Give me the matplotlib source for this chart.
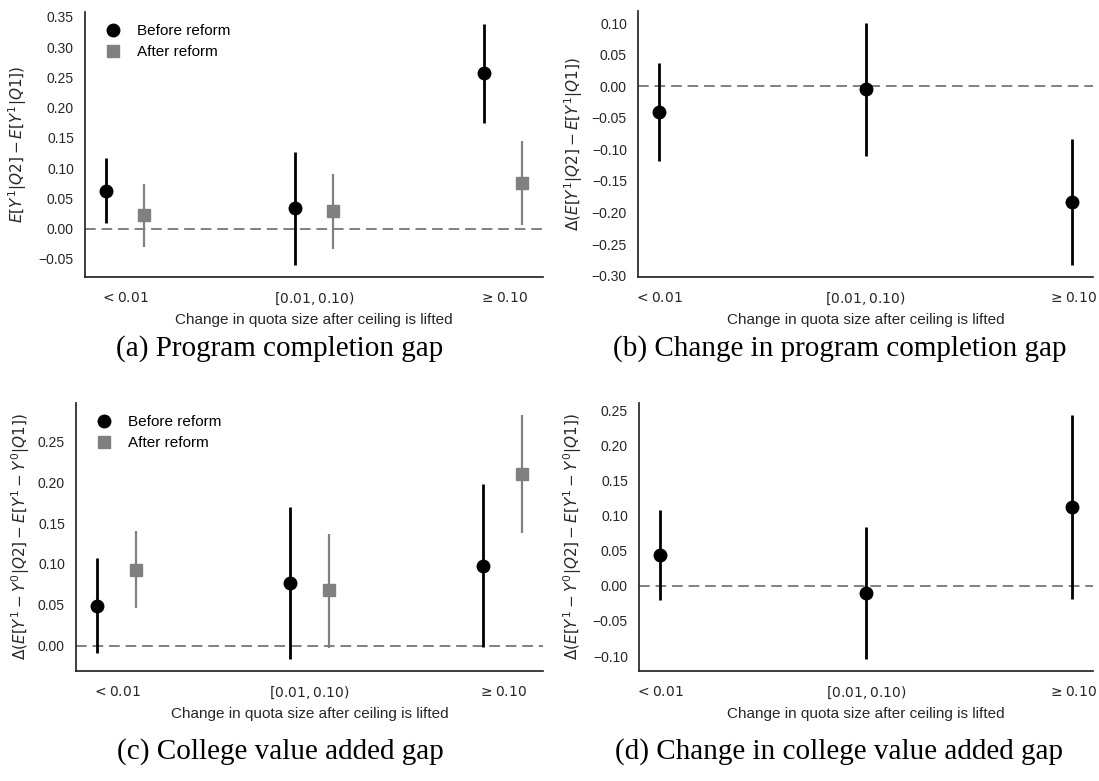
import matplotlib
matplotlib.use("Agg")
import matplotlib.pyplot as plt
import numpy as np
from matplotlib.ticker import MultipleLocator, FuncFormatter

plt.rcParams['font.family'] = ['Liberation Sans', 'DejaVu Sans']
plt.rcParams['mathtext.fontset'] = 'dejavusans'
plt.rcParams['axes.unicode_minus'] = True

categories = [r"$<0.01$", r"$[0.01, 0.10)$", r"$\geq 0.10$"]

# Panel (a): program completion gap
a_before = [0.063, 0.034, 0.257]
a_before_lo = [0.009, -0.060, 0.175]
a_before_hi = [0.116, 0.126, 0.338]
a_after = [0.022, 0.029, 0.075]
a_after_lo = [-0.031, -0.033, 0.006]
a_after_hi = [0.074, 0.091, 0.144]

# Panel (b): change in program completion gap
b_change = [-0.041, -0.005, -0.183]
b_change_lo = [-0.118, -0.110, -0.283]
b_change_hi = [0.036, 0.100, -0.083]

# Panel (c): college value added gap
c_before = [0.049, 0.077, 0.098]
c_before_lo = [-0.009, -0.016, -0.002]
c_before_hi = [0.107, 0.170, 0.198]
c_after = [0.093, 0.068, 0.210]
c_after_lo = [0.046, -0.003, 0.138]
c_after_hi = [0.140, 0.137, 0.282]

# Panel (d): change in college value added gap
d_change = [0.044, -0.010, 0.112]
d_change_lo = [-0.020, -0.104, -0.019]
d_change_hi = [0.108, 0.084, 0.243]

series_labels = ["Before reform", "After reform"]
captions = ["(a) Program completion gap", "(b) Change in program completion gap",
            "(c) College value added gap", "(d) Change in college value added gap"]
ylabels = [r"$E[Y^1|Q2] - E[Y^1|Q1])$",
           r"$\mathit{\Delta}(E[Y^1|Q2] - E[Y^1|Q1])$",
           r"$\mathit{\Delta}(E[Y^1 - Y^0|Q2] - E[Y^1 - Y^0|Q1])$",
           r"$\mathit{\Delta}(E[Y^1 - Y^0|Q2] - E[Y^1 - Y^0|Q1])$"]
xlabel = "Change in quota size after ceiling is lifted"

W, H = 1099, 781
fig = plt.figure(figsize=(W / 100, H / 100), dpi=100)

def add_ax(left, right, top, bottom):
    return fig.add_axes([left / W, 1 - bottom / H, (right - left) / W, (bottom - top) / H])

ax_a = add_ax(85, 543, 12, 277)
ax_b = add_ax(638, 1093, 11, 277)
ax_c = add_ax(76, 543, 403, 671)
ax_d = add_ax(639, 1093, 403, 671)

edge = '#262626'
gray = '#808080'
x = np.arange(len(categories))

def err(v, lo, hi):
    v = np.array(v); lo = np.array(lo); hi = np.array(hi)
    return [v - lo, hi - v]

fmt = FuncFormatter(lambda v, p: ('%.2f' % v).replace('-', '\u2212') if abs(v) > 1e-9 else '0.00')

def style(ax, ylabel, ylab_x):
    ax.axhline(0, color=gray, ls=(0, (5.5, 3)), lw=1.4, zorder=0)
    for s in ['top', 'right']:
        ax.spines[s].set_visible(False)
    for s in ['left', 'bottom']:
        ax.spines[s].set_color(edge)
        ax.spines[s].set_linewidth(1.25)
    ax.set_xticks(x)
    ax.set_xticklabels(categories)
    ax.tick_params(axis='both', length=0, labelsize=10, colors=edge)
    ax.tick_params(axis='x', pad=10)
    ax.tick_params(axis='y', pad=8)
    ax.yaxis.set_major_locator(MultipleLocator(0.05))
    ax.yaxis.set_major_formatter(fmt)
    ax.set_xlabel(xlabel, fontsize=11, color=edge, labelpad=4)
    ax.set_ylabel(ylabel, fontsize=11, color=edge)
    ax.yaxis.set_label_coords(ylab_x, 0.5)

def two_series(ax, bv, blo, bhi, av, alo, ahi):
    ax.errorbar(x - 0.1, bv, yerr=err(bv, blo, bhi), fmt='o', color='black',
                ms=9, elinewidth=2, capsize=0, label=series_labels[0])
    ax.errorbar(x + 0.1, av, yerr=err(av, alo, ahi), fmt='s', color=gray,
                ms=8, elinewidth=1.6, capsize=0, label=series_labels[1])
    h, l = ax.get_legend_handles_labels()
    h = [hh[0] for hh in h]
    ax.legend(h, l, loc='upper left', frameon=False, fontsize=11,
              handletextpad=0.6, labelspacing=0.45, borderaxespad=0.4)

def one_series(ax, v, lo, hi):
    ax.errorbar(x, v, yerr=err(v, lo, hi), fmt='o', color='black',
                ms=9, elinewidth=2, capsize=0)

two_series(ax_a, a_before, a_before_lo, a_before_hi, a_after, a_after_lo, a_after_hi)
style(ax_a, ylabels[0], (29 - 85) / 458)
one_series(ax_b, b_change, b_change_lo, b_change_hi)
style(ax_b, ylabels[1], (585 - 638) / 455)
two_series(ax_c, c_before, c_before_lo, c_before_hi, c_after, c_after_lo, c_after_hi)
style(ax_c, ylabels[2], (32 - 76) / 467)
one_series(ax_d, d_change, d_change_lo, d_change_hi)
style(ax_d, ylabels[3], (584 - 639) / 454)

cap_pos = [(280, 349), (840, 349), (280, 752), (839, 752)]
for (cx, cy), txt in zip(cap_pos, captions):
    fig.text(cx / W, 1 - cy / H, txt, ha='center', va='center',
             fontsize=21, family='Liberation Serif', color='black')

fig.savefig("out.png", dpi=100)
